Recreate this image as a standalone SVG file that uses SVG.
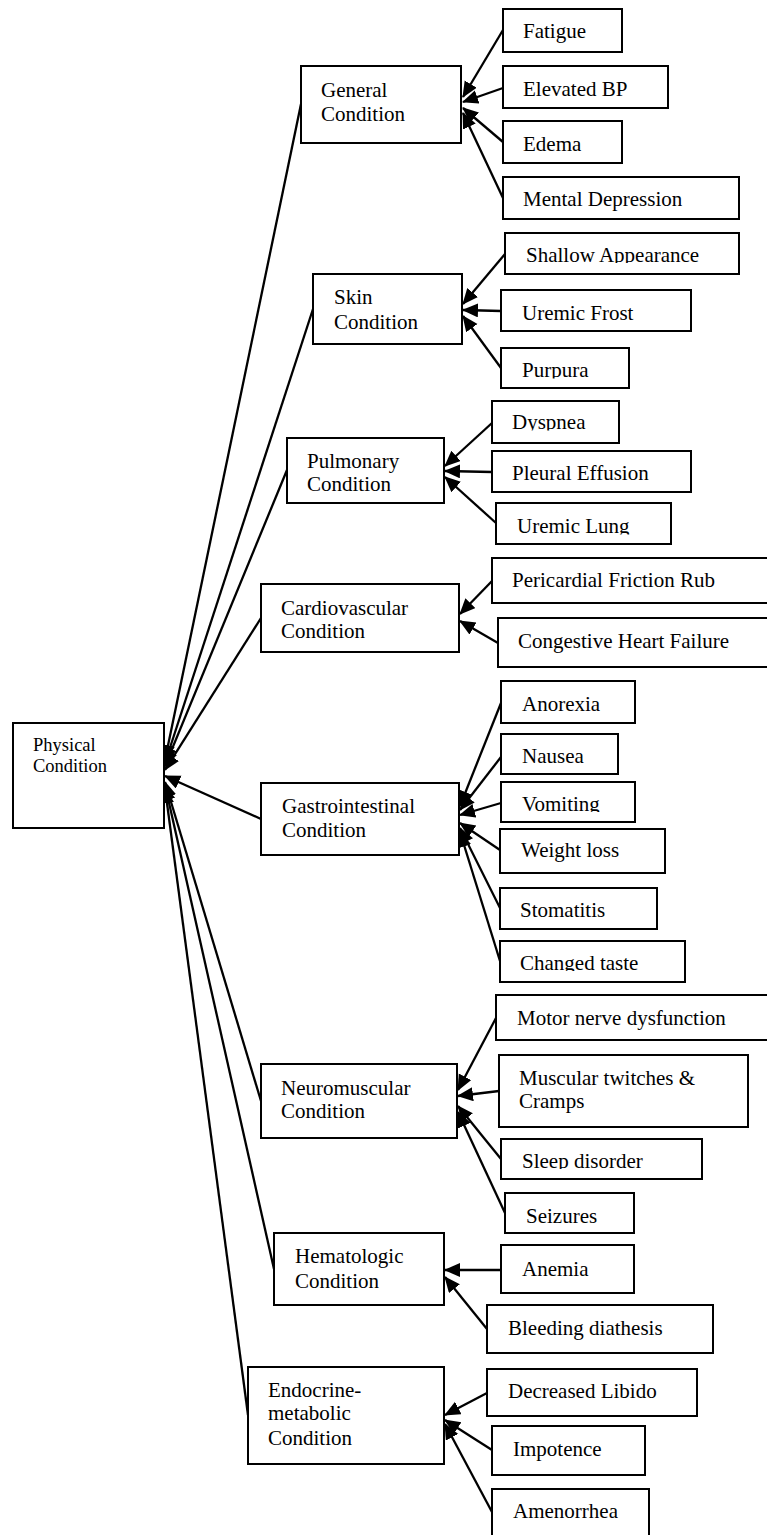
<svg xmlns="http://www.w3.org/2000/svg" width="767" height="1535" viewBox="0 0 767 1535">
<style>
rect{fill:#fff;stroke:#000;stroke-width:2}
text{font-family:"Liberation Serif","Times New Roman",serif;font-size:21px;fill:#000}
.p{font-size:18.5px}
.c line{stroke:#000;stroke-width:2.3;marker-end:url(#ah)}
</style>
<defs>
<marker id="ah" markerUnits="userSpaceOnUse" markerWidth="17" markerHeight="15" refX="15" refY="7" orient="auto" viewBox="0 0 17 15">
<path d="M0,0 L16,7 L0,14 z" fill="#000"/>
</marker>
<clipPath id="k1"><rect x="500" y="230" width="240" height="33"/></clipPath>
<clipPath id="k2"><rect x="500" y="345" width="130" height="33.5"/></clipPath>
<clipPath id="k3"><rect x="490" y="400" width="130" height="30.5"/></clipPath>
<clipPath id="k4"><rect x="494" y="500" width="180" height="34.5"/></clipPath>
<clipPath id="k5"><rect x="500" y="730" width="120" height="34.5"/></clipPath>
<clipPath id="k6"><rect x="500" y="780" width="136" height="32"/></clipPath>
<clipPath id="k7"><rect x="498" y="938" width="188" height="33"/></clipPath>
<clipPath id="k8"><rect x="500" y="1136" width="203" height="33"/></clipPath>
</defs>

<g id="connectors" class="c">
<line x1="301" y1="104" x2="165" y2="760"/>
<line x1="313" y1="309" x2="165" y2="763"/>
<line x1="287" y1="470" x2="165" y2="766"/>
<line x1="261" y1="618" x2="165" y2="770"/>
<line x1="261" y1="819" x2="165" y2="776"/>
<line x1="261" y1="1101" x2="165" y2="782"/>
<line x1="274" y1="1269" x2="165" y2="785"/>
<line x1="248" y1="1415" x2="165" y2="788"/>

<line x1="503" y1="30" x2="463" y2="97"/>
<line x1="503" y1="88" x2="463" y2="102"/>
<line x1="503" y1="142" x2="463" y2="108"/>
<line x1="503" y1="198" x2="463" y2="113"/>

<line x1="505" y1="254" x2="463" y2="304"/>
<line x1="501" y1="311" x2="463" y2="310"/>
<line x1="501" y1="368" x2="463" y2="316"/>

<line x1="492" y1="423" x2="445" y2="466"/>
<line x1="492" y1="472" x2="445" y2="471"/>
<line x1="496" y1="523" x2="445" y2="477"/>

<line x1="492" y1="581" x2="460" y2="614"/>
<line x1="498" y1="643" x2="460" y2="621"/>

<line x1="501" y1="703" x2="460" y2="806"/>
<line x1="501" y1="757" x2="460" y2="810"/>
<line x1="501" y1="803" x2="460" y2="815"/>
<line x1="500" y1="850" x2="460" y2="823"/>
<line x1="500" y1="908" x2="460" y2="828"/>
<line x1="500" y1="961" x2="460" y2="832"/>

<line x1="496" y1="1018" x2="458" y2="1090"/>
<line x1="499" y1="1091" x2="458" y2="1096"/>
<line x1="501" y1="1159" x2="458" y2="1106"/>
<line x1="505" y1="1213" x2="458" y2="1112"/>

<line x1="501" y1="1270" x2="445" y2="1270"/>
<line x1="487" y1="1329" x2="445" y2="1277"/>

<line x1="487" y1="1393" x2="445" y2="1415"/>
<line x1="492" y1="1450" x2="445" y2="1420"/>
<line x1="492" y1="1512" x2="445" y2="1424"/>
</g>

<g id="physical"><rect x="13" y="723" width="151" height="105"/><text class="p" x="33" y="751">Physical</text><text class="p" x="33" y="772">Condition</text></g>

<g id="general"><rect x="301" y="66" width="160" height="77"/><text x="321" y="97">General</text><text x="321" y="121">Condition</text></g>
<g id="fatigue"><rect x="503" y="9" width="119" height="43"/><text x="523" y="38">Fatigue</text></g>
<g id="elevated-bp"><rect x="503" y="66" width="165" height="42"/><text x="523" y="96">Elevated BP</text></g>
<g id="edema"><rect x="503" y="121" width="119" height="42"/><text x="523" y="151">Edema</text></g>
<g id="mental-depression"><rect x="503" y="177" width="236" height="42"/><text x="523" y="206">Mental Depression</text></g>

<g id="skin"><rect x="313" y="274" width="149" height="70"/><text x="334" y="304">Skin</text><text x="334" y="329">Condition</text></g>
<g id="shallow"><rect x="505" y="233" width="234" height="41"/><text x="526" y="262" clip-path="url(#k1)">Shallow Appearance</text></g>
<g id="uremic-frost"><rect x="501" y="290" width="190" height="41"/><text x="522" y="320">Uremic Frost</text></g>
<g id="purpura"><rect x="501" y="348" width="128" height="40"/><text x="522" y="377" clip-path="url(#k2)">Purpura</text></g>

<g id="pulmonary"><rect x="287" y="438" width="157" height="65"/><text x="307" y="468">Pulmonary</text><text x="307" y="491">Condition</text></g>
<g id="dyspnea"><rect x="492" y="401" width="127" height="42"/><text x="512" y="429" clip-path="url(#k3)">Dyspnea</text></g>
<g id="pleural"><rect x="492" y="451" width="199" height="41"/><text x="512" y="480">Pleural Effusion</text></g>
<g id="uremic-lung"><rect x="496" y="503" width="175" height="41"/><text x="517" y="533" clip-path="url(#k4)">Uremic Lung</text></g>

<g id="cardio"><rect x="261" y="584" width="198" height="68"/><text x="281" y="615">Cardiovascular</text><text x="281" y="638">Condition</text></g>
<g id="pericardial"><rect x="492" y="558" width="285" height="45"/><text x="512" y="587">Pericardial Friction Rub</text></g>
<g id="chf"><rect x="498" y="618" width="279" height="49"/><text x="518" y="648">Congestive Heart Failure</text></g>

<g id="gastro"><rect x="261" y="783" width="198" height="72"/><text x="282" y="813">Gastrointestinal</text><text x="282" y="837">Condition</text></g>
<g id="anorexia"><rect x="501" y="681" width="134" height="42"/><text x="522" y="711">Anorexia</text></g>
<g id="nausea"><rect x="501" y="734" width="117" height="40"/><text x="522" y="763" clip-path="url(#k5)">Nausea</text></g>
<g id="vomiting"><rect x="501" y="782" width="134" height="40"/><text x="522" y="811" clip-path="url(#k6)">Vomiting</text></g>
<g id="weight-loss"><rect x="500" y="829" width="165" height="44"/><text x="521" y="857">Weight loss</text></g>
<g id="stomatitis"><rect x="500" y="888" width="157" height="41"/><text x="520" y="917">Stomatitis</text></g>
<g id="changed-taste"><rect x="500" y="941" width="185" height="41"/><text x="520" y="970" clip-path="url(#k7)">Changed taste</text></g>

<g id="neuro"><rect x="261" y="1064" width="196" height="74"/><text x="281" y="1095">Neuromuscular</text><text x="281" y="1118">Condition</text></g>
<g id="motor"><rect x="496" y="995" width="281" height="45"/><text x="517" y="1025">Motor nerve dysfunction</text></g>
<g id="muscular"><rect x="499" y="1055" width="249" height="72"/><text x="519" y="1085">Muscular twitches &amp;</text><text x="519" y="1108">Cramps</text></g>
<g id="sleep"><rect x="501" y="1139" width="201" height="40"/><text x="522" y="1168" clip-path="url(#k8)">Sleep disorder</text></g>
<g id="seizures"><rect x="505" y="1193" width="129" height="40"/><text x="526" y="1223">Seizures</text></g>

<g id="hemato"><rect x="274" y="1233" width="170" height="72"/><text x="295" y="1263">Hematologic</text><text x="295" y="1288">Condition</text></g>
<g id="anemia"><rect x="501" y="1245" width="133" height="48"/><text x="522" y="1276">Anemia</text></g>
<g id="bleeding"><rect x="487" y="1305" width="226" height="48"/><text x="508" y="1335">Bleeding diathesis</text></g>

<g id="endo"><rect x="248" y="1367" width="196" height="97"/><text x="268" y="1397">Endocrine-</text><text x="268" y="1420">metabolic</text><text x="268" y="1445">Condition</text></g>
<g id="libido"><rect x="487" y="1369" width="210" height="47"/><text x="508" y="1398">Decreased Libido</text></g>
<g id="impotence"><rect x="492" y="1426" width="153" height="49"/><text x="513" y="1456">Impotence</text></g>
<g id="amenorrhea"><rect x="492" y="1489" width="157" height="60"/><text x="513" y="1518">Amenorrhea</text></g>
</svg>
